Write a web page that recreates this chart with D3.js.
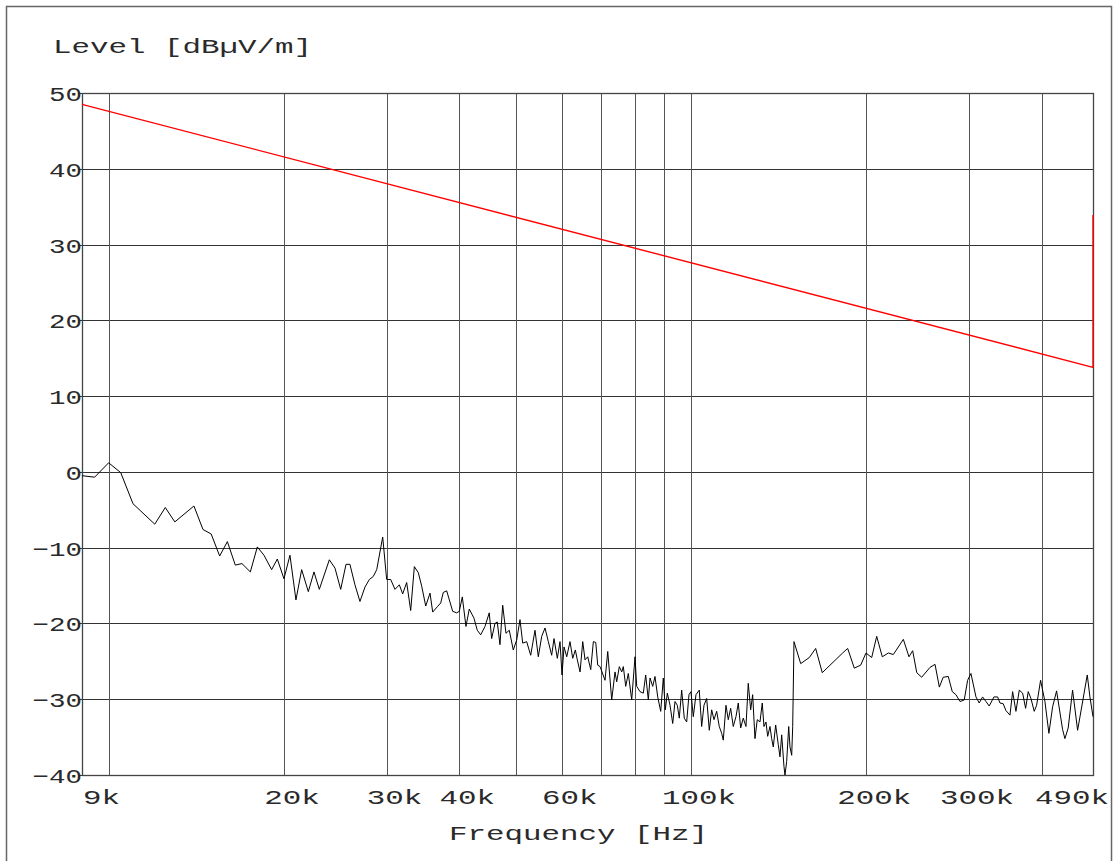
<!DOCTYPE html>
<html>
<head>
<meta charset="utf-8">
<script src="https://cdn.jsdelivr.net/npm/d3@7"></script>
<style>
  html, body { margin: 0; padding: 0; background: #fff; }
  svg { display: block; }
  text { font-family: "Liberation Mono", "DejaVu Sans Mono", monospace; fill: #2a2a2a; }
</style>
</head>
<body>
<svg id="chart" width="1115" height="861"></svg>
<script>
(function(){
'use strict';

// measured trace, frequency in kHz
var traceFreq = [9.0, 9.46, 10.0, 10.49, 11.01, 12.0, 12.51, 12.99, 14.01, 14.52, 15.0, 15.51, 15.99, 16.5, 16.94, 17.51,
    18.0, 18.48, 19.05, 19.48, 20.0, 20.48, 20.97, 21.45, 22.02, 22.52, 23.0, 23.93, 24.47, 25.03, 25.56, 25.96,
    26.48, 27.01, 27.55, 28.03, 28.47, 28.86, 29.55, 30.02, 30.5, 31.02, 31.56, 31.98, 32.49, 33.01, 33.49, 34.02,
    34.48, 35.03, 35.63, 36.01, 36.67, 37.17, 37.55, 38.06, 38.97, 39.59, 40.0, 40.48, 41.07, 41.61, 42.39, 42.95,
    43.53, 44.28, 45.03, 45.46, 46.06, 46.48, 46.98, 47.49, 48.11, 48.74, 49.52, 50.19, 50.85, 51.4, 52.21, 53.05,
    53.96, 54.67, 55.41, 56.14, 56.88, 57.64, 58.17, 58.94, 59.57, 60.04, 60.52, 61.17, 61.97, 62.64, 63.29, 63.79,
    64.48, 65.17, 65.76, 66.47, 67.26, 67.96, 68.61, 69.15, 69.79, 71.17, 71.94, 73.08, 74.04, 74.54, 75.31, 76.03,
    76.51, 77.24, 78.04, 79.09, 80.13, 80.67, 81.73, 82.8, 83.59, 84.46, 85.03, 85.94, 86.72, 87.66, 88.7, 89.62,
    90.33, 91.05, 92.03, 93.01, 93.86, 94.72, 95.46, 96.37, 97.37, 98.29, 99.19, 99.97, 100.89, 101.97, 103.31, 104.29,
    105.25, 106.38, 107.48, 108.5, 109.5, 110.66, 111.81, 112.88, 113.59, 114.81, 115.86, 116.96, 118.17, 119.44, 120.53, 121.68,
    122.94, 124.26, 125.39, 126.59, 127.59, 128.76, 129.93, 131.33, 132.52, 133.42, 134.48, 135.39, 136.63, 137.55, 138.42, 139.74,
    141.19, 142.14, 143.1, 144.41, 144.98, 145.96, 147.12, 147.88, 148.88, 149.47, 150.24, 154.27, 159.6, 163.68, 168.01, 182.1,
    185.77, 190.68, 195.57, 199.71, 204.27, 208.35, 213.0, 218.17, 222.52, 231.5, 236.7, 240.2, 244.1, 248.9, 257.2, 262.4,
    266.9, 271.0, 276.5, 280.9, 285.0, 289.6, 294.5, 298.5, 302.4, 308.5, 312.5, 316.7, 320.9, 325.1, 331.2, 336.1,
    339.2, 343.6, 347.3, 352.9, 356.6, 361.3, 366.1, 371.0, 375.4, 379.3, 383.4, 388.4, 392.1, 398.3, 405.2, 411.6,
    417.7, 424.3, 434.5, 438.5, 444.2, 452.0, 461.1, 479.0, 484.1, 490.0];

// measured trace, level in dBuV/m
var traceLevel = [-0.5, -0.7, 1.2, -0.1, -4.2, -6.9, -4.7, -6.6, -4.5, -7.6, -8.2, -11.1, -9.2, -12.3, -12.1, -13.2,
    -9.9, -11.0, -12.9, -11.5, -14.1, -11.0, -16.9, -12.9, -15.8, -13.2, -15.5, -11.6, -12.7, -15.5, -12.2, -12.2,
    -14.9, -17.1, -15.2, -14.2, -13.8, -12.9, -8.6, -14.2, -14.2, -15.5, -14.9, -16.1, -14.6, -18.3, -12.5, -13.3,
    -15.1, -17.7, -16.0, -18.5, -17.8, -17.3, -15.9, -15.7, -18.4, -18.6, -18.4, -16.5, -20.4, -18.1, -19.3, -20.9,
    -21.5, -20.4, -18.6, -22.0, -20.0, -19.8, -22.8, -17.6, -21.3, -20.9, -23.5, -22.2, -19.5, -22.6, -22.4, -24.2,
    -20.9, -24.4, -21.7, -20.6, -22.4, -24.2, -22.0, -24.6, -22.4, -26.8, -23.1, -24.4, -22.4, -24.6, -23.5, -24.8,
    -26.4, -22.4, -24.8, -24.4, -26.1, -22.4, -22.5, -25.5, -25.7, -27.5, -23.7, -30.1, -26.4, -27.7, -25.7, -26.4,
    -25.7, -28.3, -26.6, -30.1, -24.4, -28.3, -29.0, -29.2, -26.8, -30.1, -27.2, -28.3, -27.0, -29.7, -31.6, -27.2,
    -31.4, -29.2, -30.8, -33.2, -30.3, -30.8, -32.5, -28.8, -32.5, -33.0, -29.4, -29.0, -32.3, -29.4, -28.8, -33.6,
    -30.8, -29.9, -34.1, -31.4, -32.7, -31.6, -33.6, -34.5, -35.4, -30.8, -32.7, -31.2, -33.6, -32.3, -30.5, -33.8,
    -32.5, -33.6, -27.9, -31.4, -29.4, -35.2, -32.7, -33.0, -30.5, -33.6, -33.0, -34.9, -33.6, -35.2, -36.3, -33.4,
    -36.0, -37.6, -34.7, -38.9, -40.0, -38.2, -33.6, -36.3, -37.4, -33.6, -22.4, -25.3, -24.5, -23.3, -26.5, -23.9,
    -23.3, -25.9, -25.5, -23.9, -24.5, -21.7, -24.4, -23.9, -24.1, -22.1, -24.4, -23.6, -26.5, -27.1, -25.8, -25.4,
    -28.4, -27.1, -27.0, -29.0, -29.4, -30.3, -30.1, -27.5, -26.6, -29.7, -30.5, -29.7, -30.3, -30.9, -29.7, -29.7,
    -30.5, -30.6, -31.5, -32.1, -29.0, -31.6, -28.8, -29.2, -31.2, -29.0, -29.9, -31.6, -30.8, -27.5, -30.3, -34.5,
    -31.0, -28.9, -34.0, -35.2, -33.8, -28.8, -34.1, -26.8, -29.7, -32.3];

// limit line (2400/F kHz uV/m, stepping up at 490 kHz)
var limitFreq = [9, 490, 490];
var limitLevel = [48.5, 13.8, 33.9];

var yTicks = [50, 40, 30, 20, 10, 0, -10, -20, -30, -40];
var xGridFreq = [10, 20, 30, 40, 50, 60, 70, 80, 90, 100, 200, 300, 400];
var xTickFreq = [9, 20, 30, 40, 60, 100, 200, 300, 490];
var xTickLabels = ['9k', '20k', '30k', '40k', '60k', '100k', '200k', '300k', '490k'];

var svg = d3.select('#chart');
var left = 82, right = 1093, top = 93, bottom = 775;
var charW = 18.5;

var x = d3.scaleLog().domain([9, 490]).range([left, right]);
var y = d3.scaleLinear().domain([-40, 50]).range([bottom, top]);

// stretched mono text, like the plotter font
function label(g, txt, px, py, anchor, adv) {
    return g.append('text')
        .attr('x', px)
        .attr('y', py)
        .attr('text-anchor', anchor)
        .attr('font-size', 21)
        .attr('textLength', txt.length * (adv || charW))
        .attr('lengthAdjust', 'spacingAndGlyphs')
        .text(txt);
}

// page frame
svg.append('rect')
    .attr('x', 6.5).attr('y', 6.5)
    .attr('width', 1105).attr('height', 880)
    .attr('fill', 'none')
    .attr('stroke', '#666')
    .attr('stroke-width', 1.5);

var grid = svg.append('g').attr('class', 'grid');

grid.selectAll('line.h').data(yTicks).enter().append('line')
    .attr('class', 'h')
    .attr('x1', left - 4).attr('x2', right)
    .attr('y1', function(d) { return Math.round(y(d)) + 0.5; })
    .attr('y2', function(d) { return Math.round(y(d)) + 0.5; })
    .attr('stroke', '#333')
    .attr('stroke-width', 1);

grid.selectAll('line.v').data(xGridFreq).enter().append('line')
    .attr('class', 'v')
    .attr('x1', function(d) { return Math.round(x(d)) + 0.5; })
    .attr('x2', function(d) { return Math.round(x(d)) + 0.5; })
    .attr('y1', top).attr('y2', bottom)
    .attr('stroke', '#555')
    .attr('stroke-width', 1);

// plot border
grid.append('rect')
    .attr('x', left + 0.5).attr('y', top + 0.5)
    .attr('width', right - left).attr('height', bottom - top)
    .attr('fill', 'none')
    .attr('stroke', '#444')
    .attr('stroke-width', 1.3);

// traces
var line = d3.line()
    .x(function(d) { return x(d[0]); })
    .y(function(d) { return y(d[1]); });

svg.append('path')
    .datum(limitFreq.map(function(f, i) { return [f, limitLevel[i]]; }))
    .attr('d', line)
    .attr('fill', 'none')
    .attr('stroke', '#f00')
    .attr('stroke-width', 1.4);

svg.append('path')
    .datum(traceFreq.map(function(f, i) { return [f, traceLevel[i]]; }))
    .attr('d', line)
    .attr('fill', 'none')
    .attr('stroke', '#000')
    .attr('stroke-width', 1)
    .attr('stroke-linejoin', 'round');

// labels
var labels = svg.append('g').attr('class', 'labels');

yTicks.forEach(function(v) {
    var txt = v < 0 ? '\u2212' + Math.abs(v) : String(v);
    label(labels, txt, left, y(v) + 8, 'end', 16.5);
});

xTickFreq.forEach(function(f, i) {
    var txt = xTickLabels[i];
    if (i === 0) {
        label(labels, txt, left + 1, 804, 'start');
    } else if (i === xTickFreq.length - 1) {
        label(labels, txt, 1109, 804, 'end');
    } else {
        label(labels, txt, x(f) + 8, 804, 'middle');
    }
});

label(labels, 'Level [dB\u00b5V/m]', 53, 53, 'start');
label(labels, 'Frequency [Hz]', 449, 840, 'start');

})();
</script>
</body>
</html>
